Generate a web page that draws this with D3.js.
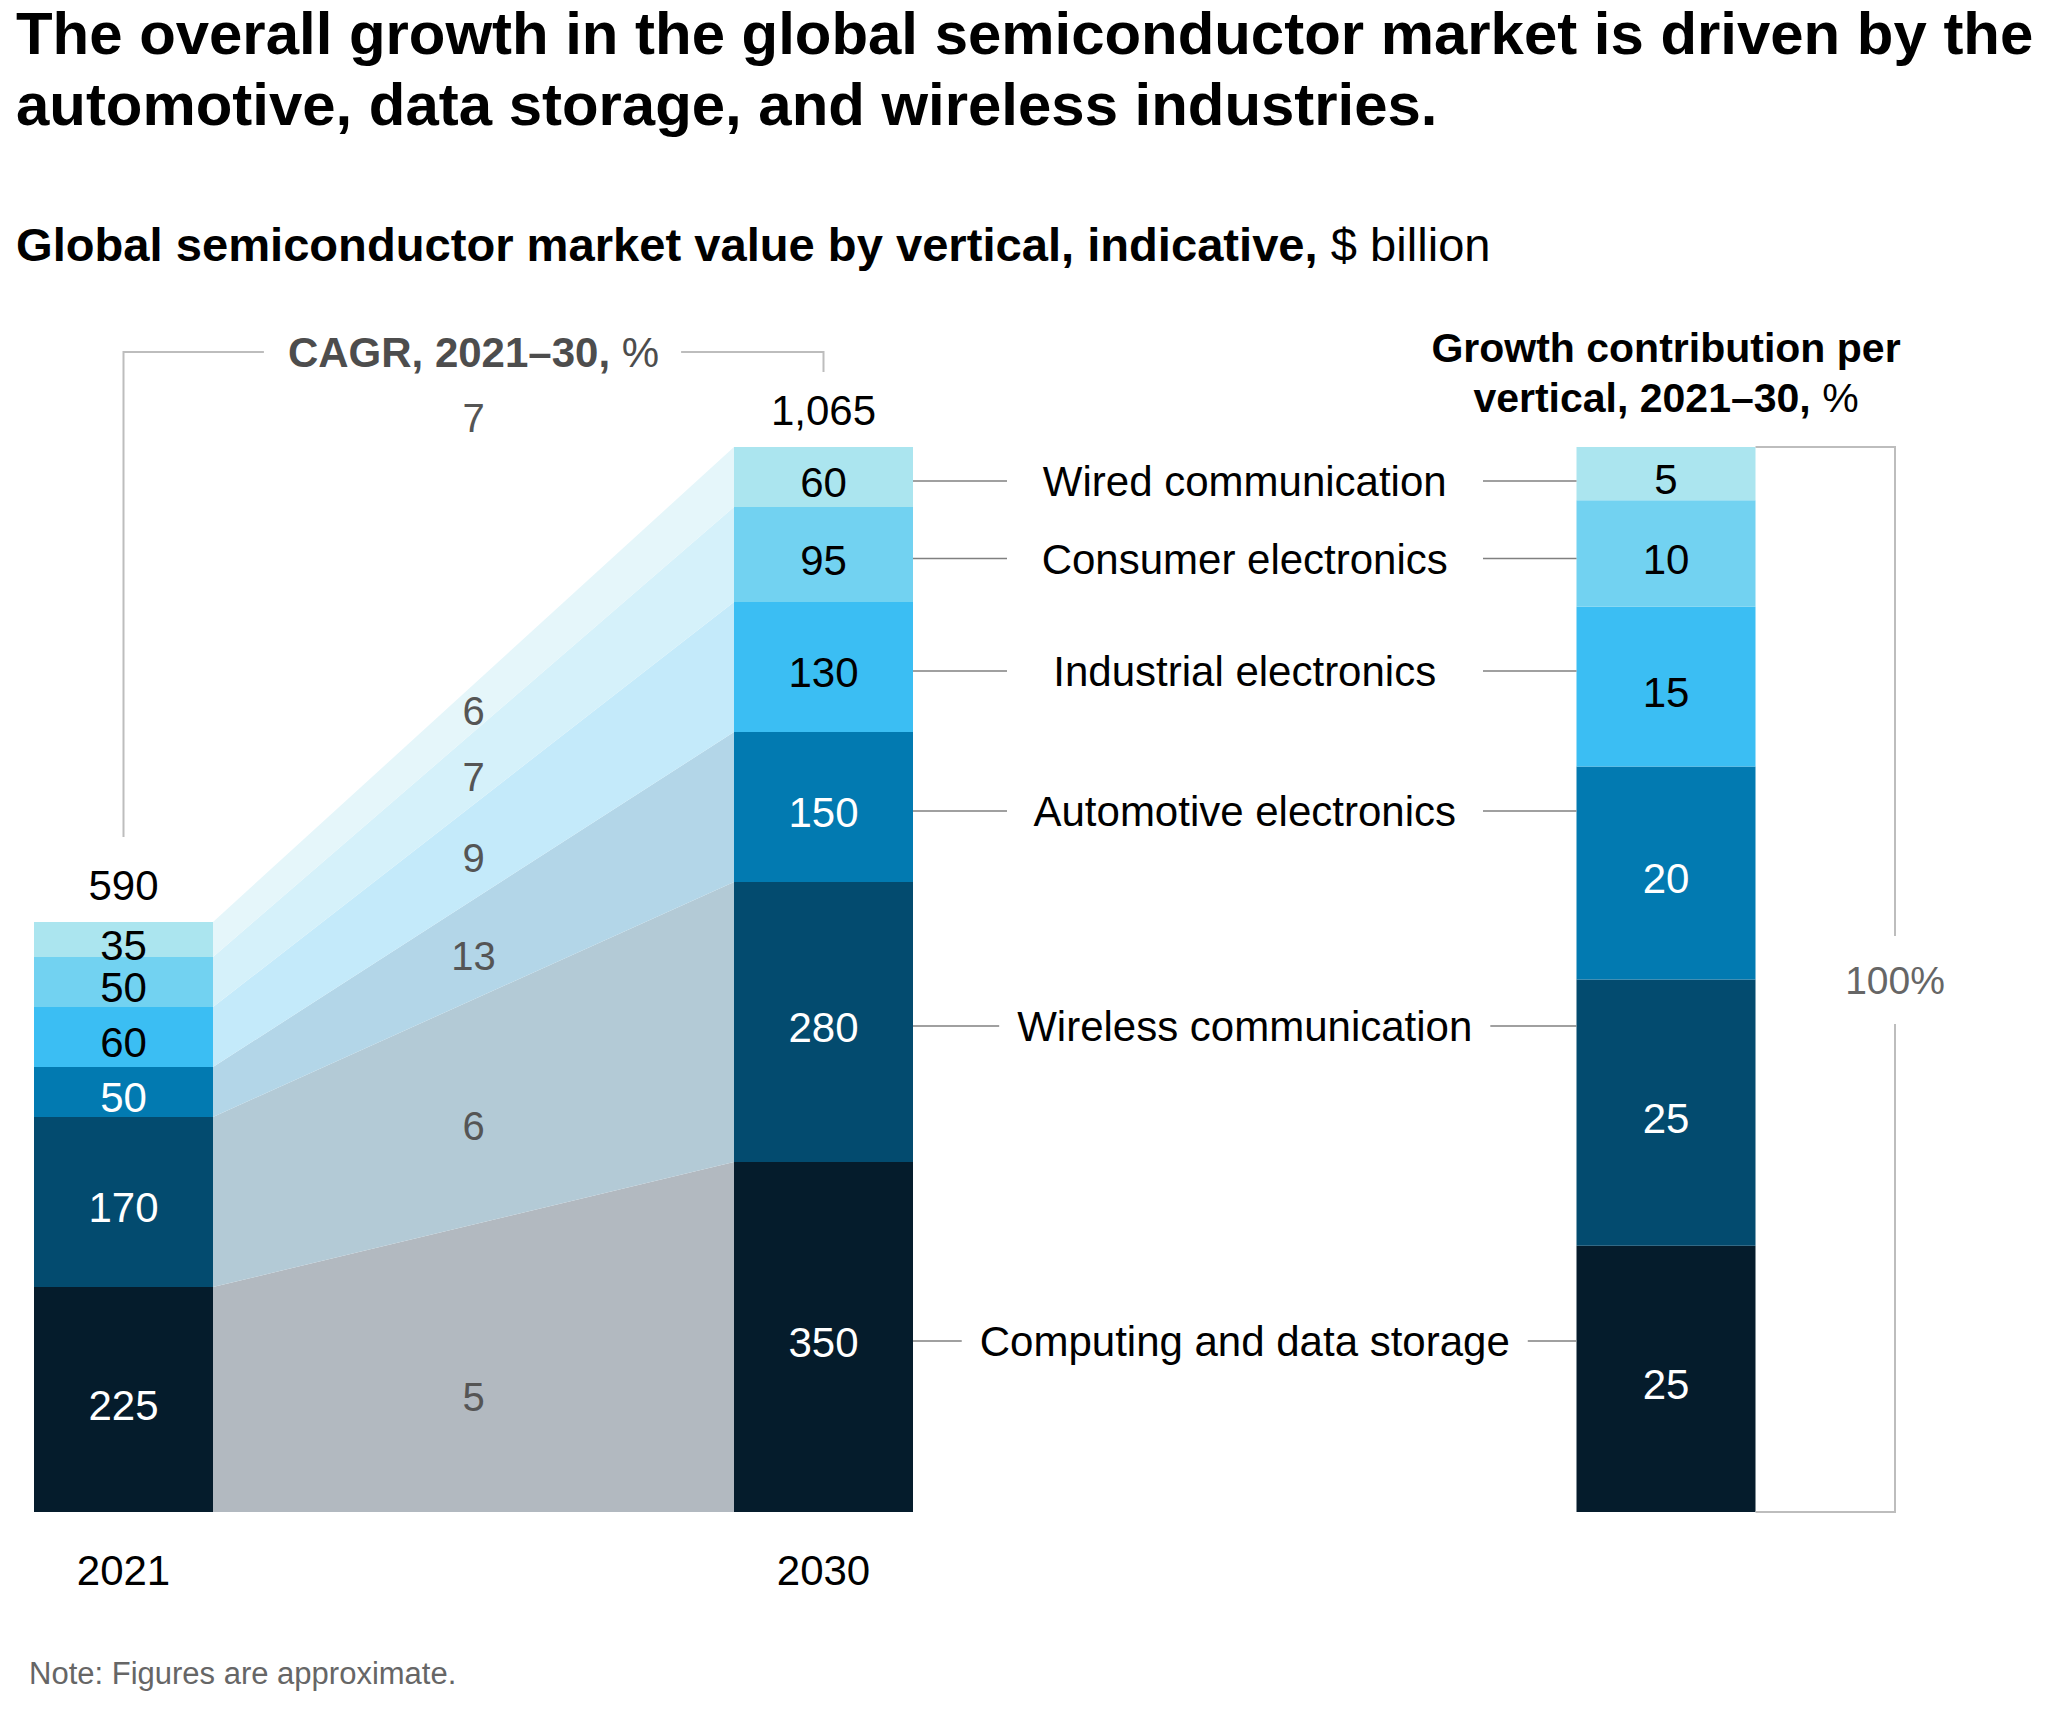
<!DOCTYPE html>
<html><head><meta charset="utf-8">
<script src="https://cdn.jsdelivr.net/npm/d3@7"></script>
<style>
body{margin:0;background:#fff}
svg{display:block}
text{font-family:"Liberation Sans", Arial, Helvetica, sans-serif}
</style>
</head><body>
<svg id="c" width="2060" height="1711"></svg>
<script>
// ---- data ----
const verticals = ["Computing and data storage","Wireless communication","Automotive electronics","Industrial electronics","Consumer electronics","Wired communication"];
const years = ["2021","2030"];
const values2021 = [225,170,50,60,50,35];
const values2030 = [350,280,150,130,95,60];
const totals = [590,1065];
const totalLabels = ["590","1,065"];
const cagr = [5,6,13,9,7,6];
const cagrTotal = 7;
const growthShare = [25,25,20,15,10,5];

// ---- styles ----
const barColors = ["#051c2c","#034b6f","#027ab1","#3bbef3","#72d2f1","#abe5ef"];
const areaColors = ["#b2b9c0","#b3cad6","#b3d6e8","#c4eafa","#d5f1fa","#e5f6fa"];
const valueColors = ["#ffffff","#ffffff","#ffffff","#000000","#000000","#000000"];
const growthColors = ["#ffffff","#ffffff","#ffffff","#000000","#000000","#000000"];
const cagrNudge = [28, 14, 6, 6, 8, 2];

const svg = d3.select("#c");

// ---- scales ----
const y = d3.scaleLinear().domain([0, 1065]).range([1512, 447]);
const yG = d3.scaleLinear().domain([0, 100]).range([1512, 447]);
const col = d3.scaleOrdinal().domain(["2021","2030","growth"]).range([123.5, 823.5, 1666]);
const barW = 179;
const labelDy = "0.48em";

function fitWidth(sel, target){
  const w = sel.node().getComputedTextLength();
  const fs = parseFloat(sel.attr("font-size"));
  sel.attr("font-size", fs * target / w);
  return fs * target / w;
}

// ---- titles ----
const t1 = svg.append("text").attr("x",16).attr("y",54).attr("font-size",54).attr("font-weight","bold").attr("fill","#000")
  .text("The overall growth in the global semiconductor market is driven by the");
const tfs = fitWidth(t1, 2018);
svg.append("text").attr("x",16).attr("y",125).attr("font-size",tfs).attr("font-weight","bold").attr("fill","#000")
  .text("automotive, data storage, and wireless industries.");

const sub = svg.append("text").attr("x",16).attr("y",261).attr("font-size",38).attr("fill","#000");
sub.append("tspan").attr("font-weight","bold").text("Global semiconductor market value by vertical, indicative,");
sub.append("tspan").text(" $ billion");
fitWidth(sub, 1475);

// ---- stacked data ----
const rows = years.map((yr, j) => {
  const o = {year: yr};
  verticals.forEach((v, i) => o[v] = (j === 0 ? values2021 : values2030)[i]);
  return o;
});
const series = d3.stack().keys(verticals)(rows);

// ---- areas between bars ----
const area = d3.area()
  .x(d => d.data.year === "2021" ? col("2021") + barW/2 : col("2030") - barW/2)
  .y0(d => y(d[0])).y1(d => y(d[1]));
svg.append("g").selectAll("path").data(series).join("path")
  .attr("d", area).attr("fill", (d,i) => areaColors[i]);

// ---- bars ----
const gb = svg.append("g");
series.forEach((s, i) => {
  s.forEach(d => {
    gb.append("rect").attr("x", col(d.data.year) - barW/2).attr("width", barW)
      .attr("y", y(d[1])).attr("height", y(d[0]) - y(d[1])).attr("fill", barColors[i]);
    gb.append("text").attr("x", col(d.data.year)).attr("y", (y(d[0]) + y(d[1]))/2).attr("dy", labelDy)
      .attr("text-anchor","middle").attr("font-size",42).attr("fill", valueColors[i])
      .text(d[1]-d[0]);
  });
});

// totals and year labels
years.forEach((yr, j) => {
  svg.append("text").attr("x", col(yr)).attr("y", y(totals[j]) - 22).attr("text-anchor","middle")
    .attr("font-size",42).attr("fill","#000").text(totalLabels[j]);
  svg.append("text").attr("x", col(yr)).attr("y", 1585).attr("text-anchor","middle")
    .attr("font-size",42).attr("fill","#000").text(yr);
});

// ---- CAGR labels ----
const midX = (col("2021") + barW/2 + col("2030") - barW/2) / 2;
series.forEach((s, i) => {
  const top = (y(s[0][1]) + y(s[1][1])) / 2;
  const bot = (y(s[0][0]) + y(s[1][0])) / 2;
  svg.append("text").attr("x", midX).attr("y", (top + bot)/2 + cagrNudge[i]).attr("dy","0.36em")
    .attr("text-anchor","middle").attr("font-size",40).attr("fill","#555").text(cagr[i]);
});
svg.append("text").attr("x", midX).attr("y", y(1065) - 15).attr("text-anchor","middle")
  .attr("font-size",40).attr("fill","#555").text(cagrTotal);

// CAGR header + bracket
const bracketY = 352;
const ch = svg.append("text").attr("x", midX).attr("y", 367).attr("text-anchor","middle").attr("font-size",42).attr("fill","#4d4d4d");
ch.append("tspan").attr("font-weight","bold").text("CAGR, 2021–30,");
ch.append("tspan").text(" %");
const chb = ch.node().getBBox();
const brk = svg.append("g").attr("stroke","#bdbdbd").attr("stroke-width",2).attr("fill","none");
brk.append("path").attr("d", d3.line()([[col("2021"), y(590) - 85],[col("2021"), bracketY],[chb.x - 24, bracketY]]));
brk.append("path").attr("d", d3.line()([[chb.x + chb.width + 22, bracketY],[col("2030"), bracketY],[col("2030"), bracketY + 20]]));

// ---- growth contribution bar ----
const gStack = d3.stack().keys(verticals)([Object.fromEntries(verticals.map((v,i)=>[v, growthShare[i]]))]);
gStack.forEach((s, i) => {
  const d = s[0];
  svg.append("rect").attr("x", col("growth") - barW/2).attr("width", barW)
    .attr("y", yG(d[1])).attr("height", yG(d[0]) - yG(d[1])).attr("fill", barColors[i]);
  svg.append("text").attr("x", col("growth")).attr("y", (yG(d[0]) + yG(d[1]))/2).attr("dy", labelDy)
    .attr("text-anchor","middle").attr("font-size",42).attr("fill", growthColors[i]).text(growthShare[i]);
});

// growth header
svg.append("text").attr("x", col("growth")).attr("y", 362).attr("text-anchor","middle")
  .attr("font-size",41).attr("font-weight","bold").attr("fill","#000").text("Growth contribution per");
const gh2 = svg.append("text").attr("x", col("growth")).attr("y", 412).attr("text-anchor","middle")
  .attr("font-size",41).attr("fill","#000");
gh2.append("tspan").attr("font-weight","bold").text("vertical, 2021–30,");
gh2.append("tspan").text(" %");

// 100% bracket
const bx = 1895;
const gbk = svg.append("g").attr("stroke","#bdbdbd").attr("stroke-width",2).attr("fill","none");
gbk.append("path").attr("d", d3.line()([[col("growth") + barW/2, yG(100)],[bx, yG(100)],[bx, 936]]));
gbk.append("path").attr("d", d3.line()([[bx, 1024],[bx, yG(0)],[col("growth") + barW/2, yG(0)]]));
svg.append("text").attr("x", bx).attr("y", 980).attr("dy","0.36em").attr("text-anchor","middle")
  .attr("font-size",39).attr("fill","#666").text("100%");

// ---- legend labels with connectors ----
const legX = (col("2030") + barW/2 + col("growth") - barW/2) / 2;
const lg = svg.append("g");
verticals.forEach((v, i) => {
  const d = series[i][1];
  const yy = (y(d[0]) + y(d[1])) / 2 + 4;
  const t = lg.append("text").attr("x", legX).attr("y", yy).attr("dy","0.36em").attr("text-anchor","middle")
    .attr("font-size",42).attr("fill","#000").text(v);
  const w = t.node().getComputedTextLength();
  const l = Math.min(1007, legX - w/2 - 18);
  const r = Math.max(1483, legX + w/2 + 18);
  lg.append("line").attr("x1", col("2030") + barW/2).attr("x2", l).attr("y1", yy).attr("y2", yy)
    .attr("stroke","#808080").attr("stroke-width",1.6);
  lg.append("line").attr("x1", r).attr("x2", col("growth") - barW/2).attr("y1", yy).attr("y2", yy)
    .attr("stroke","#808080").attr("stroke-width",1.6);
});

// ---- note ----
svg.append("text").attr("x", 29).attr("y", 1684).attr("font-size",31).attr("fill","#666")
  .text("Note: Figures are approximate.");
</script>
</body></html>
